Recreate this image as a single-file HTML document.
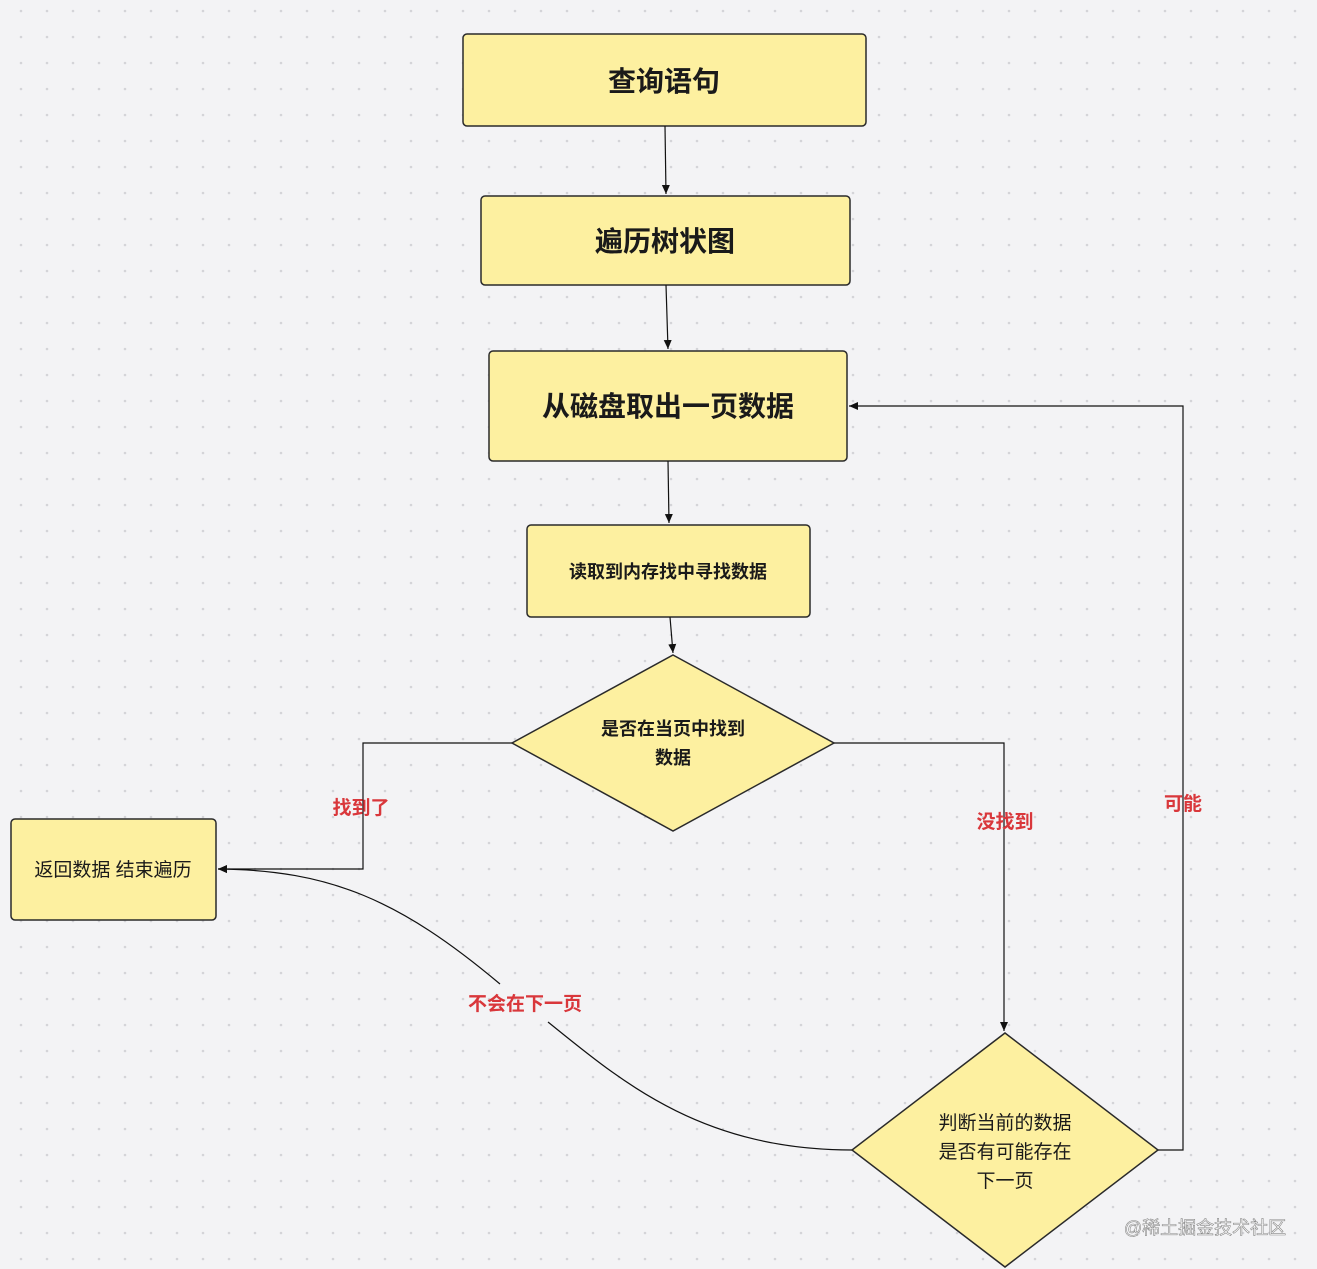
<!DOCTYPE html>
<html><head><meta charset="utf-8"><style>
html,body{margin:0;padding:0;background:#f3f3f5;}
svg{display:block;}
text{font-family:"Liberation Sans","Noto Sans CJK SC",sans-serif;fill:#1a1a1a;}
.r{fill:#d9373b;}
</style></head><body>
<svg width="1317" height="1269" viewBox="0 0 1317 1269" xmlns="http://www.w3.org/2000/svg">
<defs>
<pattern id="d" width="26" height="26" patternUnits="userSpaceOnUse" x="8" y="-2">
<circle cx="13" cy="13" r="1.3" fill="#d4d4d8"/></pattern>
<marker id="a" markerWidth="10" markerHeight="10" refX="9" refY="5" orient="auto" markerUnits="userSpaceOnUse">
<path d="M0,1 L9,5 L0,9 z" fill="#111"/></marker>
</defs>
<rect width="1317" height="1269" fill="url(#d)"/>
<g fill="#fdf0a0" stroke="#2a2a2a" stroke-width="1.5">
<rect x="463" y="34" width="403" height="92" rx="4"/>
<rect x="481" y="196" width="369" height="89" rx="4"/>
<rect x="489" y="351" width="358" height="110" rx="4"/>
<rect x="527" y="525" width="283" height="92" rx="4"/>
<rect x="11" y="819" width="205" height="101" rx="4"/>
<polygon points="673,655 834,743 673,831 512,743"/>
<polygon points="1005,1033 1158,1150 1005,1267 852,1150"/>
</g>
<g fill="none" stroke="#111" stroke-width="1.2">
<line x1="665" y1="126" x2="666" y2="194" marker-end="url(#a)"/>
<line x1="666" y1="285" x2="668" y2="349" marker-end="url(#a)"/>
<line x1="668" y1="461" x2="669" y2="523" marker-end="url(#a)"/>
<line x1="670" y1="617" x2="673" y2="653" marker-end="url(#a)"/>
<polyline points="512,743 363,743 363,869 218,869" marker-end="url(#a)"/>
<polyline points="834,743 1004,743 1004,1031" marker-end="url(#a)"/>
<polyline points="1158,1150 1183,1150 1183,406 849,406" marker-end="url(#a)"/>
<path d="M852,1150 C700,1150 620,1080 548,1022" />
<path d="M500,984 C400,900 330,870 218,869" marker-end="url(#a)"/>
</g>
<g text-anchor="middle">
<text x="664" y="91" font-size="28" font-weight="bold">查询语句</text>
<text x="665" y="251" font-size="28" font-weight="bold">遍历树状图</text>
<text x="668" y="416" font-size="28" font-weight="bold">从磁盘取出一页数据</text>
<text x="668" y="578" font-size="18" font-weight="bold">读取到内存找中寻找数据</text>
<text x="673" y="735" font-size="18" font-weight="bold">是否在当页中找到</text>
<text x="673" y="764" font-size="18" font-weight="bold">数据</text>
<text x="113" y="876" font-size="19">返回数据 结束遍历</text>
<text x="1005" y="1129" font-size="19">判断当前的数据</text>
<text x="1005" y="1158" font-size="19">是否有可能存在</text>
<text x="1005" y="1187" font-size="19">下一页</text>
<text class="r" x="361" y="814" font-size="19" font-weight="bold">找到了</text>
<text class="r" x="1005" y="828" font-size="19" font-weight="bold">没找到</text>
<text class="r" x="1183" y="810" font-size="19" font-weight="bold">可能</text>
<text class="r" x="525" y="1010" font-size="19" font-weight="bold">不会在下一页</text>
<text x="1205" y="1234" font-size="18" style="fill:#fff;stroke:#888;stroke-width:0.6">@稀土掘金技术社区</text>
</g>
</svg>
</body></html>
